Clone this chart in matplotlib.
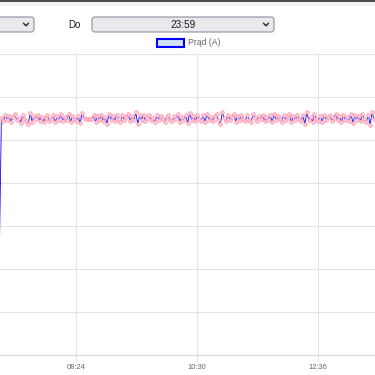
import numpy as np
import matplotlib
matplotlib.use("Agg")
import matplotlib.pyplot as plt
from matplotlib.patches import FancyBboxPatch, Rectangle
from matplotlib.ticker import MultipleLocator, FuncFormatter

# DATA
SERIES_LABEL = "Prąd (A)"
FROM_LABEL = "Do"
TO_TIME = "23:59"

# the reading just before the visible window (the drop at the left edge)
LOW_TIME = 423.5
LOW_VALUE = 1.8

# then one reading every 2 minutes, times in minutes after midnight
FIRST_TIME = 426
STEP_MIN = 2
current = [
    5.52, 5.44, 5.58, 5.47, 5.55, 5.43, 5.53, 5.60, 5.46, 5.52, 5.40, 5.57, 5.49, 5.45, 5.38,
    5.63, 5.42, 5.56, 5.48, 5.59, 5.45, 5.54, 5.43, 5.52, 5.58, 5.44, 5.50, 5.57, 5.41, 5.55,
    5.47, 5.60, 5.44, 5.53, 5.46, 5.61, 5.42, 5.56, 5.50, 5.44, 5.55, 5.39, 5.62, 5.51, 5.49,
    5.49, 5.49, 5.49, 5.57, 5.43, 5.55, 5.46, 5.59, 5.44, 5.53, 5.37, 5.61, 5.47, 5.56, 5.44,
    5.58, 5.50, 5.42, 5.57, 5.47, 5.53, 5.60, 5.44, 5.55, 5.46, 5.64, 5.37, 5.57, 5.47, 5.59,
    5.44, 5.52, 5.58, 5.46, 5.51, 5.42, 5.57, 5.47, 5.55, 5.50, 5.43, 5.53, 5.58, 5.47, 5.45,
    5.56, 5.50, 5.60, 5.42, 5.53, 5.46, 5.58, 5.39, 5.63, 5.47, 5.55, 5.44, 5.59, 5.50, 5.45,
    5.57, 5.42, 5.60, 5.47, 5.53, 5.44, 5.55, 5.61, 5.46, 5.38, 5.64, 5.51, 5.44, 5.58, 5.47,
    5.53, 5.60, 5.43, 5.56, 5.46, 5.59, 5.50, 5.44, 5.57, 5.47, 5.41, 5.61, 5.52, 5.45, 5.56,
    5.50, 5.59, 5.44, 5.53, 5.47, 5.57, 5.42, 5.60, 5.46, 5.55, 5.50, 5.43, 5.58, 5.47, 5.53,
    5.61, 5.41, 5.56, 5.46, 5.59, 5.50, 5.44, 5.57, 5.37, 5.64, 5.47, 5.53, 5.43, 5.60, 5.50,
    5.45, 5.56, 5.42, 5.59, 5.47, 5.53, 5.58, 5.44, 5.51, 5.60, 5.46, 5.56, 5.42, 5.57, 5.47,
    5.53, 5.44, 5.61, 5.40, 5.57, 5.47, 5.56, 5.45, 5.60, 5.50, 5.42, 5.58, 5.36, 5.64, 5.50,
]
times = np.concatenate([[LOW_TIME], FIRST_TIME + STEP_MIN * np.arange(len(current))])
values = np.concatenate([[LOW_VALUE], current])

TICK_STEP = 126          # minutes between labelled ticks (08:24, 10:30, 12:36)
X_RANGE = (424.55, 815.05)
Y_RANGE = (0, 7)

GRID = "#e4e4e4"
LINE_BLUE = "#0000ff"
POINT_EDGE = "#ff86a0"
POINT_FACE = "#ffccd8"
TEXT_GREY = "#666666"

W = H = 375


def hhmm(v, pos=None):
    v = int(round(v))
    return f"{v // 60:02d}:{v % 60:02d}"


def select_box(ax, x0, x1, y0, y1, text=None):
    box = FancyBboxPatch((x0, y0), x1 - x0, y1 - y0,
                         boxstyle="round,pad=0,rounding_size=3",
                         fc="#e9e9ed", ec="#8f8f9d", lw=0.8)
    ax.add_patch(box)
    cx, cy = x1 - 8, (y0 + y1) / 2
    ax.plot([cx - 2.5, cx, cx + 2.5], [cy - 1.2, cy + 1.3, cy - 1.2],
            color="#222222", lw=1.0, solid_capstyle="round")
    if text:
        ax.text((x0 + x1) / 2, cy, text, ha="center", va="center",
                fontsize=7.2, color="#1a1a1a", family="Liberation Sans")


fig = plt.figure(figsize=(W / 100, H / 100), dpi=100)
fig.patch.set_facecolor("white")

# chart area: top gridline at y=54 px, bottom axis at y=355 px
ax = fig.add_axes([0, 1 - 355 / H, 1, (355 - 54) / H])
ax.plot(times, values, color=LINE_BLUE, lw=0.6, zorder=3)
ax.plot(times[1:], values[1:], ls="none", marker="o", ms=2.6, mfc=POINT_FACE,
        mec=POINT_EDGE, mew=0.45, zorder=4)
ax.set_xlim(*X_RANGE)
ax.set_ylim(*Y_RANGE)
ax.yaxis.set_major_locator(MultipleLocator(1))
ax.xaxis.set_major_locator(MultipleLocator(TICK_STEP))
ax.xaxis.set_major_formatter(FuncFormatter(hhmm))
ax.grid(True, color=GRID, lw=0.8)
ax.tick_params(axis="y", left=False, labelleft=False)
ax.tick_params(axis="x", length=5, width=0.8, color=GRID, pad=1.5,
               labelsize=5.4, labelcolor=TEXT_GREY)
for lab in ax.get_xticklabels():
    lab.set_family("Liberation Sans")
for s in ["left", "right"]:
    ax.spines[s].set_visible(False)
ax.spines["top"].set_color(GRID)
ax.spines["bottom"].set_color("#d9d9d9")
ax.spines["top"].set_linewidth(0.8)
ax.spines["bottom"].set_linewidth(0.8)

# page controls drawn in pixel coordinates
ui = fig.add_axes([0, 0, 1, 1], zorder=5)
ui.set_xlim(0, W)
ui.set_ylim(H, 0)
ui.axis("off")
ui.patch.set_alpha(0)

ui.add_patch(Rectangle((0, 0), W, 2, fc="#4d4d4d", ec="none"))
ui.add_patch(Rectangle((0, 2), W, 3.5, fc="#f4f4f4", ec="none"))

select_box(ui, -20, 34, 17, 32)
ui.text(68, 24.5, FROM_LABEL, ha="left", va="center", fontsize=7,
        color="#1a1a1a", family="Liberation Sans")
select_box(ui, 92, 274, 17, 32, TO_TIME)

# legend
ui.add_patch(Rectangle((156.5, 38.5), 27, 8, fc="#cfe0f7", ec=LINE_BLUE, lw=1.5))
ui.text(188, 42.5, SERIES_LABEL, ha="left", va="center", fontsize=6.2,
        color=TEXT_GREY, family="Liberation Sans")

fig.savefig("out.png", dpi=100)
